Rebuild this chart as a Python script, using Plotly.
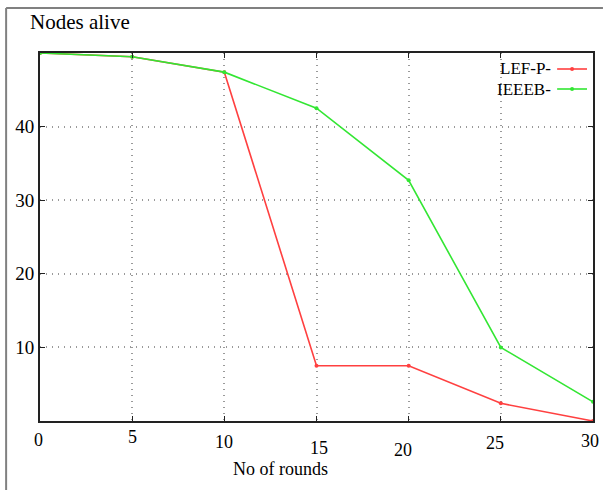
import plotly.graph_objects as go

rounds = [0, 5, 10, 15, 20, 25, 30]
lefp = [50, 49.5, 47.4, 7.5, 7.5, 2.4, 0]
ieeeb = [50, 49.5, 47.4, 42.5, 32.7, 10, 2.6]
series_names = ["LEF-P-", "IEEEB-"]
series_colors = ["#ff4040", "#33e633"]
x_ticks = [0, 5, 10, 15, 20, 25, 30]
y_ticks = [10, 20, 30, 40]

FONT = "Liberation Serif, Times New Roman, serif"


def px(x):
    return (x - 40) / 555


def py(y):
    return (421 - y) / 368


fig = go.Figure()
for name, vals, col in zip(series_names, [lefp, ieeeb], series_colors):
    fig.add_trace(go.Scatter(x=rounds, y=vals, mode="lines+markers", name=name,
                             line=dict(color=col, width=1.6),
                             marker=dict(color=col, size=4), cliponaxis=False))

fig.update_layout(
    width=603, height=490,
    margin=dict(l=40, r=8, t=53, b=69),
    paper_bgcolor="white", plot_bgcolor="white",
    showlegend=False,
    font=dict(family=FONT, size=19, color="black"),
)
fig.update_xaxes(range=[0, 30], tickvals=x_ticks, showticklabels=False,
                 showgrid=True, gridcolor="#9a9a9a", griddash="1px,5px", gridwidth=1.5,
                 showline=True, linecolor="#222222", linewidth=2, mirror="ticks",
                 ticks="inside", ticklen=5, tickcolor="#222222", zeroline=False)
fig.update_yaxes(range=[0, 50], tickvals=y_ticks,
                 showgrid=True, gridcolor="#9a9a9a", griddash="1px,5px", gridwidth=1.5,
                 showline=True, linecolor="#222222", linewidth=2, mirror="ticks",
                 ticks="inside", ticklen=5, tickcolor="#222222", zeroline=False,
                 tickfont=dict(family=FONT, size=19))

# staggered x tick labels
y_off = [-19, -16, -21, -27, -29, -22, -20]
x_off = [-2, 0, 0, 2, -6, -6, -3]
for xv, yo, xo in zip(x_ticks, y_off, x_off):
    fig.add_annotation(x=xv, y=0, xref="x", yref="paper", text=str(xv),
                       showarrow=False, yshift=yo, xshift=xo, yanchor="middle",
                       font=dict(family=FONT, size=18))

fig.add_annotation(x=px(281), y=py(469), xref="paper", yref="paper", text="No of rounds",
                   showarrow=False, yanchor="middle", font=dict(family=FONT, size=18))

fig.add_annotation(x=px(28), y=py(22), xref="paper", yref="paper",
                   text="Nodes alive", showarrow=False, xanchor="left", yanchor="middle",
                   font=dict(family=FONT, size=21))

# legend (text before line, as in reference)
for i, (name, col) in enumerate(zip(series_names, series_colors)):
    yy = 69 + 20 * i
    yp = py(yy)
    fig.add_annotation(x=px(555), y=yp, xref="paper", yref="paper",
                       text=name, showarrow=False, xanchor="right", yanchor="middle",
                       font=dict(family=FONT, size=17))
    fig.add_shape(type="line", xref="paper", yref="paper",
                  x0=px(559), x1=px(589), y0=yp, y1=yp,
                  line=dict(color=col, width=1.6))
    fig.add_shape(type="circle", xref="paper", yref="paper",
                  x0=px(572), x1=px(576), y0=yp - 2 / 368, y1=yp + 2 / 368,
                  fillcolor=col, line=dict(color=col, width=0))

# outer frame
fig.add_shape(type="line", xref="paper", yref="paper",
              x0=px(6), x1=px(6), y0=py(8), y1=py(492),
              line=dict(color="#808080", width=2))
fig.add_shape(type="line", xref="paper", yref="paper",
              x0=px(6), x1=px(605), y0=py(8), y1=py(8),
              line=dict(color="#808080", width=2))

fig.write_html("out.html", config={"displayModeBar": False},
               post_script="document.body.style.margin='0';")
